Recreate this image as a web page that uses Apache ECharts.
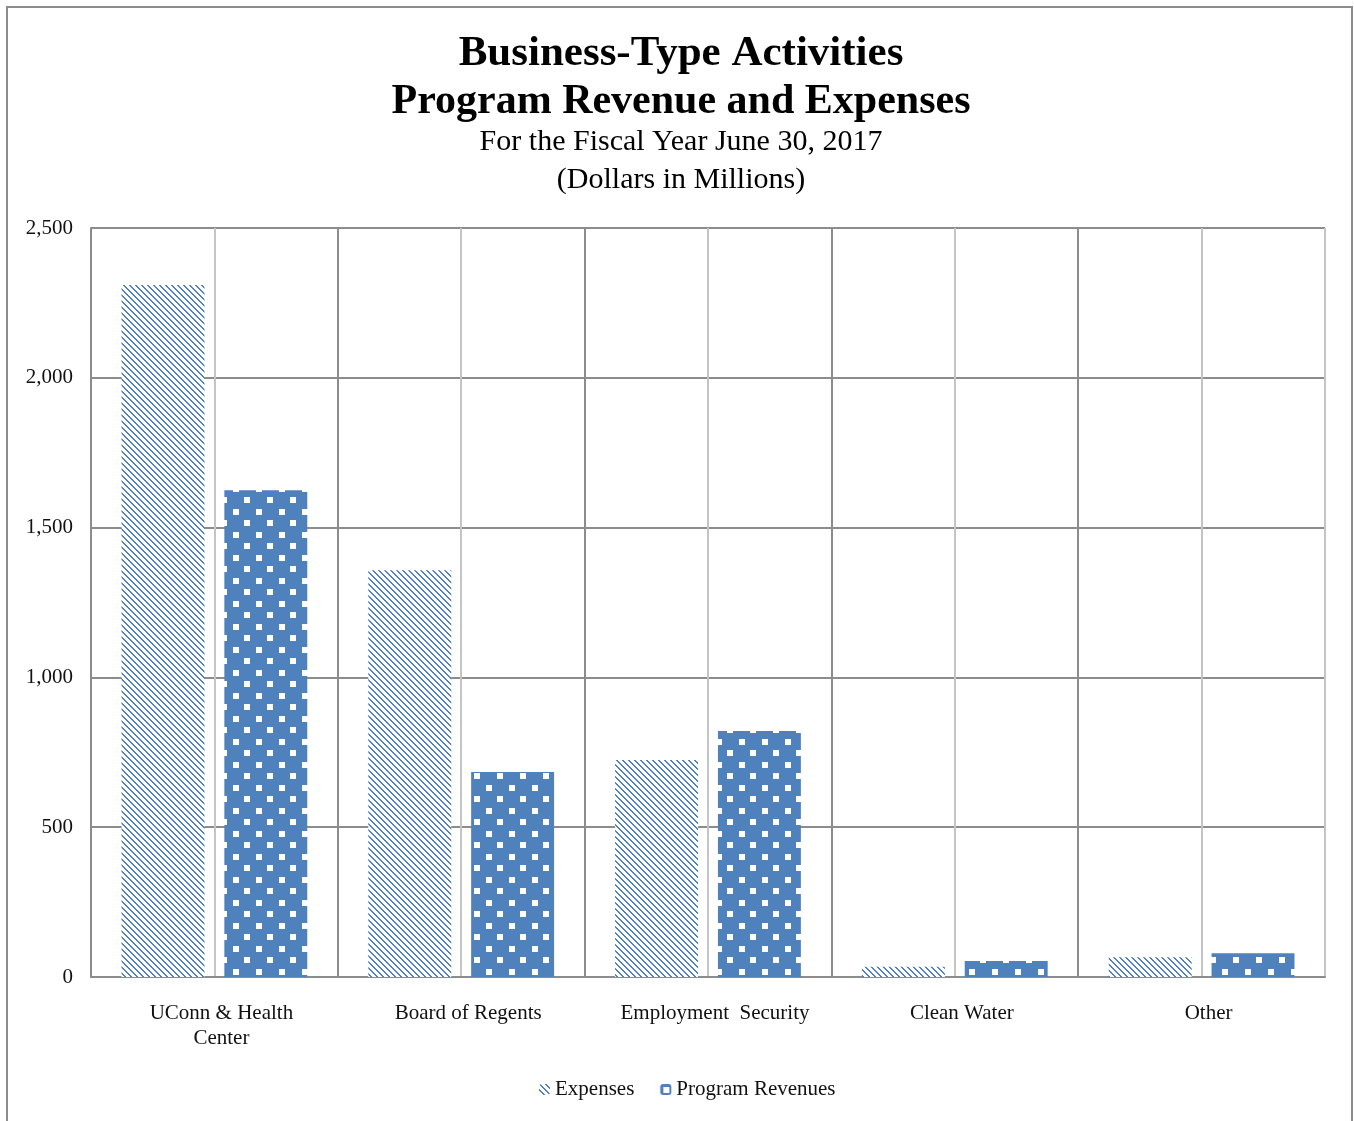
<!DOCTYPE html>
<html>
	<head>
		<meta charset="UTF-8">
		<title>Business-Type Activities</title>
		<script src="https://cdn.jsdelivr.net/npm/echarts@6/dist/echarts.min.js"></script>
		<style type="text/css">
			html, body {
				margin: 0;
				padding: 0;
				background: #fff;
				overflow: hidden;
			}
			#main {
				width: 1354px;
				height: 1121px;
			}
		</style>
	</head>
	<body>
		<div id="main"></div>
		<script type="text/javascript">
			var categories = ['UConn & Health\nCenter', 'Board of Regents', 'Employment  Security', 'Clean Water', 'Other'];
			var expenses = [2310, 1358, 724, 34, 66];
			var revenues = [1625, 684, 821, 53, 79];
			var yTicks = [0, 500, 1000, 1500, 2000, 2500];

			var blue = '#4f81bd';
			var serif = '"Liberation Serif", "DejaVu Serif", serif';

			// diagonal hatch for expenses
			function hatchTile() {
				var n = 6;
				var c = document.createElement('canvas');
				c.width = n;
				c.height = n;
				var g = c.getContext('2d');
				g.fillStyle = '#fff';
				g.fillRect(0, 0, n, n);
				g.fillStyle = blue;
				for (var i = 0; i < n; i++) {
					g.fillRect(i, i, 2, 1);
					if (i == n - 1) g.fillRect(0, i, 1, 1);
				}
				return c;
			}

			// blue with white staggered squares for revenues
			function dotTile() {
				var c = document.createElement('canvas');
				c.width = 23;
				c.height = 23;
				var g = c.getContext('2d');
				g.fillStyle = blue;
				g.fillRect(0, 0, 23, 23);
				g.fillStyle = '#fff';
				g.fillRect(3, 3, 6, 6);
				g.fillRect(14, 14, 6, 6);
				return c;
			}

			var hatch = { image: hatchTile(), repeat: 'repeat' };
			var dots = { image: dotTile(), repeat: 'repeat' };

			// half-category slots, only used to draw the mid grid lines
			var halfSlots = [];
			for (var k = 0; k < categories.length * 2; k++) halfSlots.push(k);

			var chart = echarts.init(document.getElementById('main'));
			var option = {
				backgroundColor: '#fff',
				animation: false,
				graphic: [
					{ type: 'rect', shape: { x: 7, y: 7, width: 1345, height: 1130 }, style: { fill: 'none', stroke: '#8c8c8c', lineWidth: 2 }, silent: true },
					{ type: 'text', x: 681, y: 54, style: { text: 'Business-Type Activities', font: 'bold 43px ' + serif, fill: '#000', textAlign: 'center', textVerticalAlign: 'middle' } },
					{ type: 'text', x: 681, y: 102, style: { text: 'Program Revenue and Expenses', font: 'bold 42px ' + serif, fill: '#000', textAlign: 'center', textVerticalAlign: 'middle' } },
					{ type: 'text', x: 681, y: 142, style: { text: 'For the Fiscal Year June 30, 2017', font: '30px ' + serif, fill: '#000', textAlign: 'center', textVerticalAlign: 'middle' } },
					{ type: 'text', x: 681, y: 180, style: { text: '(Dollars in Millions)', font: '30px ' + serif, fill: '#000', textAlign: 'center', textVerticalAlign: 'middle' } }
				],
				legend: {
					bottom: 16,
					left: 534,
					itemWidth: 11,
					itemHeight: 11,
					itemGap: 26,
					textStyle: { fontFamily: serif, fontSize: 21, color: '#111' },
					data: ['Expenses', 'Program Revenues']
				},
				grid: { left: 91, right: 29, top: 228, bottom: 144 },
				xAxis: [{
					type: 'category',
					data: categories,
					axisLine: { lineStyle: { color: '#8c8c8c', width: 2 } },
					axisTick: { show: false },
					splitLine: { show: true, lineStyle: { color: '#8c8c8c', width: 2 } },
					axisLabel: { fontFamily: serif, fontSize: 21, color: '#111', margin: 24, lineHeight: 25, interval: 0, padding: [0, 0, 0, 14] }
				}, {
					type: 'category',
					data: halfSlots,
					position: 'bottom',
					axisLine: { show: false },
					axisTick: { show: false },
					axisLabel: { show: false },
					splitLine: {
						show: true,
						interval: function (index) { return index % 2 === 1; },
						lineStyle: { color: '#c4c4c4', width: 2 }
					}
				}],
				yAxis: {
					type: 'value',
					min: yTicks[0],
					max: yTicks[yTicks.length - 1],
					interval: yTicks[1] - yTicks[0],
					axisLine: { show: true, lineStyle: { color: '#8c8c8c', width: 2 } },
					axisTick: { show: false },
					splitLine: { lineStyle: { color: '#8c8c8c', width: 2 } },
					axisLabel: {
						fontFamily: serif, fontSize: 21, color: '#111', margin: 18,
						formatter: function (v) { return v.toLocaleString('en-US'); }
					}
				},
				series: [{
					name: 'Expenses',
					type: 'bar',
					data: expenses,
					barWidth: '33.6%',
					barGap: '24%',
					itemStyle: { color: hatch }
				}, {
					name: 'Program Revenues',
					type: 'bar',
					data: revenues,
					barWidth: '33.6%',
					itemStyle: { color: dots }
				}]
			};
			chart.setOption(option);
		</script>
	</body>
</html>
